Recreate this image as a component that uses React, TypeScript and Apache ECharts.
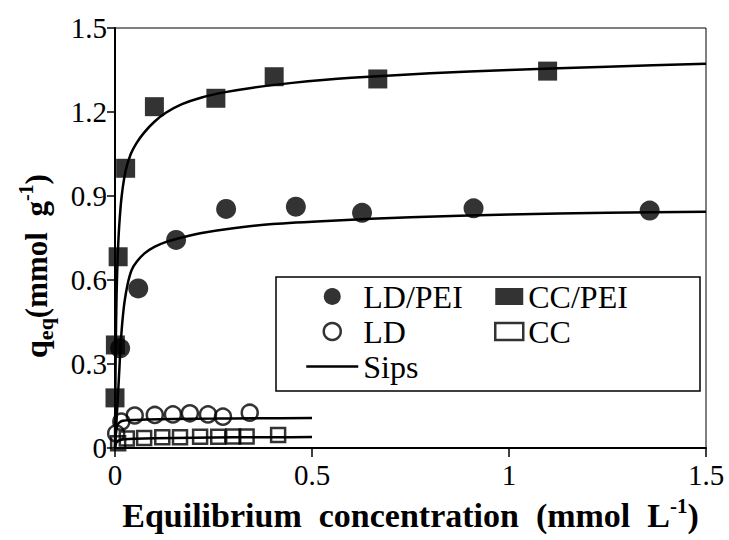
import React, { useEffect, useRef } from 'react';
import * as echarts from 'echarts';

// Tick labels
const X_TICKS = ['0', '0.5', '1', '1.5'];
const Y_TICKS = ['0', '0.3', '0.6', '0.9', '1.2', '1.5'];

// LD/PEI (filled circles)
const ldPeiX = [0.013, 0.059, 0.155, 0.282, 0.459, 0.627, 0.91, 1.357];
const ldPeiY = [0.356, 0.57, 0.743, 0.854, 0.862, 0.84, 0.856, 0.848];

// CC/PEI (filled squares)
const ccPeiX = [0.0, 0.001, 0.008, 0.027, 0.1, 0.256, 0.404, 0.667, 1.098];
const ccPeiY = [0.179, 0.368, 0.683, 0.999, 1.219, 1.249, 1.326, 1.318, 1.346];

// LD (open circles)
const ldX = [0.003, 0.016, 0.05, 0.101, 0.147, 0.19, 0.236, 0.274, 0.342];
const ldY = [0.052, 0.094, 0.116, 0.118, 0.12, 0.124, 0.12, 0.112, 0.126];

// CC (open squares)
const ccX = [0.008, 0.03, 0.074, 0.12, 0.165, 0.216, 0.262, 0.3, 0.334, 0.414];
const ccY = [0.017, 0.034, 0.036, 0.038, 0.038, 0.04, 0.04, 0.041, 0.041, 0.046];

// Sips fitted curves
const sipsCcPeiX = [0, 0.0005, 0.001, 0.002, 0.004, 0.007, 0.011, 0.017, 0.027, 0.04, 0.055, 0.075, 0.1, 0.13, 0.17, 0.22, 0.28, 0.35, 0.45, 0.6, 0.8, 1.0, 1.25, 1.5];
const sipsCcPeiY = [0, 0.12, 0.22, 0.37, 0.55, 0.69, 0.8, 0.9, 0.99, 1.05, 1.09, 1.128, 1.165, 1.198, 1.228, 1.252, 1.271, 1.287, 1.304, 1.322, 1.338, 1.35, 1.362, 1.372];

const sipsLdPeiX = [0, 0.002, 0.004, 0.006, 0.008, 0.011, 0.014, 0.018, 0.024, 0.032, 0.042, 0.055, 0.075, 0.1, 0.13, 0.17, 0.22, 0.3, 0.4, 0.55, 0.75, 1.0, 1.25, 1.5];
const sipsLdPeiY = [0, 0.05, 0.1, 0.15, 0.2, 0.28, 0.36, 0.44, 0.52, 0.585, 0.635, 0.665, 0.695, 0.718, 0.736, 0.752, 0.768, 0.785, 0.8, 0.812, 0.824, 0.834, 0.84, 0.844];

const sipsLdX = [0, 0.001, 0.002, 0.004, 0.007, 0.012, 0.02, 0.04, 0.08, 0.15, 0.25, 0.35, 0.5];
const sipsLdY = [0, 0.03, 0.05, 0.07, 0.084, 0.092, 0.097, 0.1, 0.102, 0.104, 0.105, 0.106, 0.107];

const sipsCcX = [0, 0.001, 0.003, 0.006, 0.012, 0.025, 0.05, 0.1, 0.2, 0.3, 0.4, 0.5];
const sipsCcY = [0, 0.01, 0.018, 0.024, 0.028, 0.031, 0.033, 0.035, 0.037, 0.038, 0.0385, 0.039];

const zip = (xs: number[], ys: number[]) => xs.map((x, i) => [x, ys[i]]);

export default function App() {
  const ref = useRef<HTMLDivElement>(null);
  useEffect(() => {
    const chart = echarts.init(ref.current as HTMLDivElement, null, { renderer: 'svg' });
    const font = 'Liberation Serif';
    const lineSeries = (xs: number[], ys: number[]) => ({
      type: 'line',
      name: 'Sips',
      data: zip(xs, ys),
      symbol: 'none',
      showSymbol: false,
      smooth: 0.25,
      color: '#000',
      lineStyle: { color: '#000', width: 2.5 },
      z: 2,
      silent: true,
    });
    const legendText = { fontFamily: font, fontSize: 32, color: '#000', lineHeight: 35 };
    const option: any = {
      animation: false,
      backgroundColor: '#fff',
      color: ['#000'],
      grid: {
        left: 115,
        top: 28,
        width: 591,
        height: 420,
        show: true,
        borderColor: '#000',
        borderWidth: 1,
        containLabel: false,
      },
      xAxis: {
        type: 'value',
        min: 0,
        max: 1.5,
        interval: 0.5,
        axisLine: { show: true, onZero: false, lineStyle: { color: '#000', width: 2 } },
        axisTick: { show: true, length: 9, lineStyle: { color: '#000', width: 1.5 } },
        splitLine: { show: false },
        axisLabel: {
          color: '#000',
          fontFamily: font,
          fontSize: 29,
          margin: 12,
          formatter: (v: number) => X_TICKS[Math.round(v / 0.5)] ?? '',
        },
        name: '{t|Equilibrium  concentration  (mmol  L}{s|-1}{t|)}',
        nameLocation: 'middle',
        nameGap: 47,
        nameTextStyle: {
          fontFamily: font,
          rich: {
            t: { fontFamily: font, fontWeight: 'bold', fontSize: 34, color: '#000', lineHeight: 40 },
            s: { fontFamily: font, fontWeight: 'bold', fontSize: 21, color: '#000', lineHeight: 22, verticalAlign: 'top' },
          },
        },
      },
      yAxis: {
        type: 'value',
        min: 0,
        max: 1.5,
        interval: 0.3,
        axisLine: { show: true, onZero: false, lineStyle: { color: '#000', width: 2 } },
        axisTick: { show: true, length: 8, lineStyle: { color: '#000', width: 1.5 } },
        splitLine: { show: false },
        axisLabel: {
          color: '#000',
          fontFamily: font,
          fontSize: 29,
          margin: 8,
          formatter: (v: number) => Y_TICKS[Math.round(v / 0.3)] ?? '',
        },
      },
      legend: [
        {
          left: 305,
          top: 279,
          padding: 0,
          orient: 'vertical',
          itemWidth: 52,
          itemHeight: 17,
          itemGap: 0,
          selectedMode: false,
          textStyle: legendText,
          data: [
            { name: 'LD/PEI' },
            { name: 'LD', itemStyle: { borderWidth: 2.5, borderColor: '#000' } },
            {
              name: 'Sips',
              lineStyle: { width: 2.5, color: '#000' },
              itemStyle: { color: 'rgba(0,0,0,0)', borderWidth: 0, opacity: 0 },
            },
          ],
          z: 6,
        },
        {
          left: 494,
          top: 279,
          padding: 0,
          orient: 'vertical',
          itemWidth: 28,
          itemHeight: 17,
          itemGap: 0,
          selectedMode: false,
          textStyle: legendText,
          data: [
            { name: 'CC/PEI' },
            { name: 'CC', itemStyle: { borderWidth: 2.5, borderColor: '#000' } },
          ],
          z: 6,
        },
      ],
      graphic: [
        {
          type: 'rect',
          shape: { x: 276, y: 277, width: 424, height: 114 },
          style: { fill: '#fff', stroke: '#000', lineWidth: 1.5 },
          z: 5,
        },
        {
          type: 'text',
          x: 36,
          y: 266,
          rotation: Math.PI / 2,
          style: {
            text: '{q|q}{sub|eq}{n|(mmol  g}{sup|-1}{n|)}',
            align: 'center',
            verticalAlign: 'middle',
            rich: {
              q: { fontFamily: font, fontWeight: 'bold', fontSize: 32, fill: '#000', lineHeight: 40 },
              sub: { fontFamily: font, fontWeight: 'bold', fontSize: 22, fill: '#000', lineHeight: 22, verticalAlign: 'bottom' },
              n: { fontFamily: font, fontWeight: 'bold', fontSize: 31, fill: '#000', lineHeight: 40 },
              sup: { fontFamily: font, fontWeight: 'bold', fontSize: 20, fill: '#000', lineHeight: 20, verticalAlign: 'top' },
            },
          },
          z: 5,
        },
      ],
      series: [
        lineSeries(sipsCcPeiX, sipsCcPeiY),
        lineSeries(sipsLdPeiX, sipsLdPeiY),
        lineSeries(sipsLdX, sipsLdY),
        lineSeries(sipsCcX, sipsCcY),
        {
          type: 'scatter',
          name: 'LD/PEI',
          data: zip(ldPeiX, ldPeiY),
          symbol: 'circle',
          symbolSize: 20,
          itemStyle: { color: '#000' },
          z: 3,
        },
        {
          type: 'scatter',
          name: 'CC/PEI',
          data: zip(ccPeiX, ccPeiY),
          symbol: 'rect',
          symbolSize: 19,
          itemStyle: { color: '#000' },
          z: 3,
        },
        {
          type: 'scatter',
          name: 'LD',
          data: zip(ldX, ldY),
          symbol: 'circle',
          symbolSize: 16,
          itemStyle: { color: 'transparent', borderColor: '#000', borderWidth: 2.5 },
          z: 3,
        },
        {
          type: 'scatter',
          name: 'CC',
          data: zip(ccX, ccY),
          symbol: 'rect',
          symbolSize: 14,
          itemStyle: { color: 'transparent', borderColor: '#000', borderWidth: 2.5 },
          z: 3,
        },
      ],
    };
    chart.setOption(option);
    return () => chart.dispose();
  }, []);
  return (
    <div
      ref={ref}
      style={{ position: 'fixed', left: 0, top: 0, width: 729, height: 540, background: '#fff' }}
    />
  );
}
